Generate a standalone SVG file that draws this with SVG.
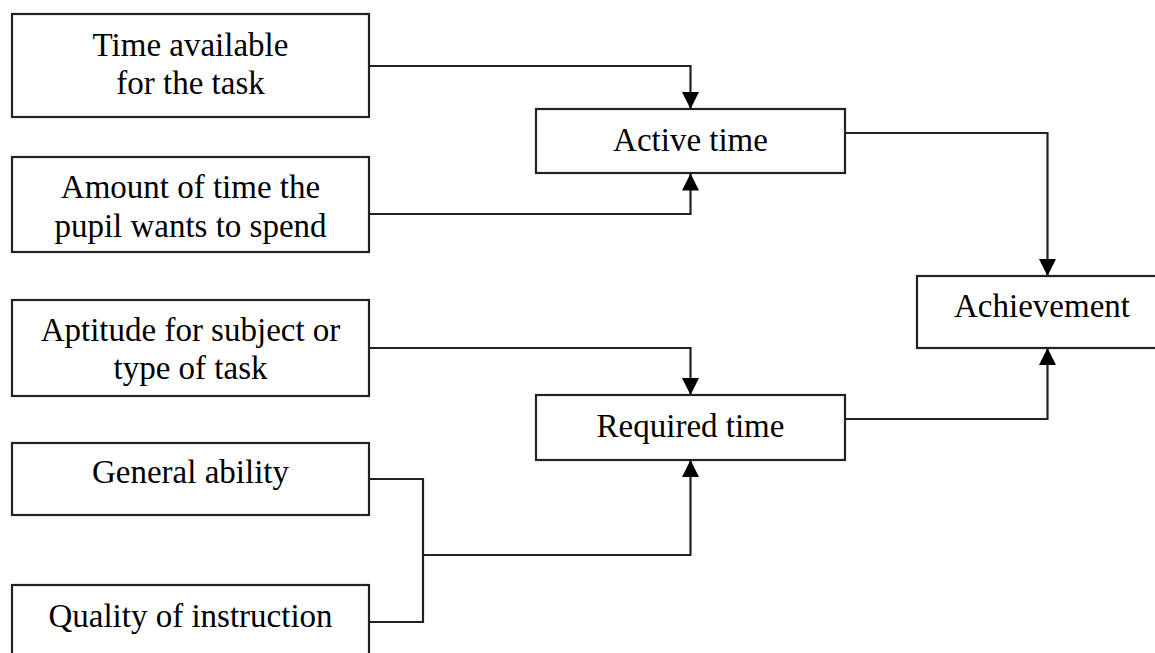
<svg xmlns="http://www.w3.org/2000/svg" width="1155" height="653" viewBox="0 0 1155 653">
<style>
.box{fill:#fff;stroke:#222;stroke-width:2.2}
.lbl{font-family:"Liberation Serif","Times New Roman",serif;font-size:33px;fill:#000;text-anchor:middle}
.con{fill:none;stroke:#222;stroke-width:2.2}
</style>
<defs>
<marker id="ah" markerWidth="17" markerHeight="17" viewBox="0 0 17 17" refX="17" refY="8.5" orient="auto" markerUnits="userSpaceOnUse">
<path d="M0,0 L17,8.5 L0,17 Z" fill="#000"/>
</marker>
</defs>
<rect width="1155" height="653" fill="#fff"/>
<g id="connectors">
<path class="con" d="M369,66 H690.5 V109" marker-end="url(#ah)"/>
<path class="con" d="M369,214 H690.5 V173.5" marker-end="url(#ah)"/>
<path class="con" d="M369,348 H690.5 V395" marker-end="url(#ah)"/>
<path class="con" d="M369,479 H423 V622 H369"/>
<path class="con" d="M423,555 H690.5 V460" marker-end="url(#ah)"/>
<path class="con" d="M845,133 H1047.5 V276" marker-end="url(#ah)"/>
<path class="con" d="M845,419 H1047.5 V348" marker-end="url(#ah)"/>
</g>
<g id="n-time-available">
<rect class="box" x="12" y="14" width="357" height="103"/>
<text class="lbl" x="190.5" y="56">Time available</text>
<text class="lbl" x="190.5" y="94">for the task</text>
</g>
<g id="n-amount">
<rect class="box" x="12" y="157" width="357" height="95"/>
<text class="lbl" x="190.5" y="198">Amount of time the</text>
<text class="lbl" x="190.5" y="237">pupil wants to spend</text>
</g>
<g id="n-aptitude">
<rect class="box" x="12" y="300" width="357" height="96"/>
<text class="lbl" x="190.5" y="341">Aptitude for subject or</text>
<text class="lbl" x="190.5" y="379">type of task</text>
</g>
<g id="n-general">
<rect class="box" x="12" y="443" width="357" height="72"/>
<text class="lbl" x="190.5" y="483">General ability</text>
</g>
<g id="n-quality">
<rect class="box" x="12" y="585" width="357" height="90"/>
<text class="lbl" x="190.5" y="627">Quality of instruction</text>
</g>
<g id="n-active">
<rect class="box" x="536" y="109" width="309" height="64"/>
<text class="lbl" x="690.5" y="151">Active time</text>
</g>
<g id="n-required">
<rect class="box" x="536" y="395" width="309" height="65"/>
<text class="lbl" x="690.5" y="437">Required time</text>
</g>
<g id="n-achievement">
<rect class="box" x="917" y="276" width="252" height="72"/>
<text class="lbl" x="1042" y="317">Achievement</text>
</g>
</svg>
